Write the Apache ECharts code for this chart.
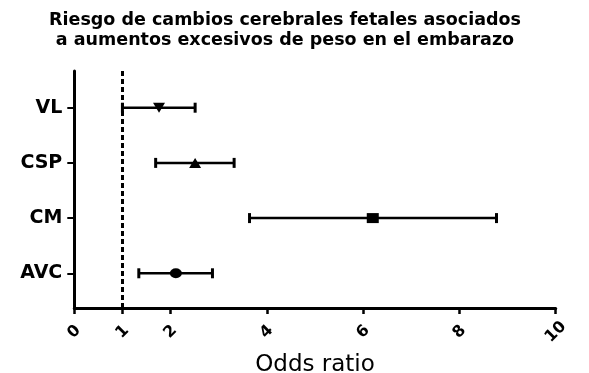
<!DOCTYPE html>
<html>
<head>
<meta charset="utf-8">
<script src="https://cdn.jsdelivr.net/npm/echarts@6/dist/echarts.min.js"></script>
<style>
  html, body { margin: 0; padding: 0; background: #fff; }
  #chart { width: 589px; height: 373px; }
</style>
</head>
<body>
<div id="chart"></div>
<script>
// Outcome groups, listed top to bottom
const categories = ['VL', 'CSP', 'CM', 'AVC'];
// Odds ratios with 95% confidence limits
const oddsRatio = [1.76, 2.51, 6.20, 2.11];
const ciLower   = [1.00, 1.69, 3.64, 1.34];
const ciUpper   = [2.51, 3.32, 8.77, 2.87];
// Ticks shown on the odds-ratio axis
const xTicks = [0, 1, 2, 4, 6, 8, 10];
// Reference line for no effect
const nullValue = 1;

const FONT = 'DejaVu Sans';
const n = categories.length;
// row position on the vertical axis (top row gets the largest value)
const rowPos = i => n - i;

const markerStyle = {
  VL:  { symbol: 'triangle', symbolRotate: 180 },
  CSP: { symbol: 'triangle', symbolRotate: 0 },
  CM:  { symbol: 'rect', symbolRotate: 0 },
  AVC: { symbol: 'circle', symbolRotate: 0 }
};

const barData = categories.map((c, i) => [ciLower[i], ciUpper[i], rowPos(i)]);
const pointData = categories.map((c, i) => ({
  value: [oddsRatio[i], rowPos(i)],
  symbol: markerStyle[c].symbol,
  symbolRotate: markerStyle[c].symbolRotate
}));

const chart = echarts.init(document.getElementById('chart'), null, { renderer: 'canvas' });

chart.setOption({
  animation: false,
  backgroundColor: '#ffffff',
  title: {
    text: 'Riesgo de cambios cerebrales fetales asociados\na aumentos excesivos de peso en el embarazo',
    left: 280,
    top: 5,
    textAlign: 'center',
    textStyle: {
      fontFamily: FONT,
      fontWeight: 'bold',
      fontSize: 17.5,
      lineHeight: 20,
      color: '#000'
    }
  },
  grid: { left: 74.3, right: 33.3, top: 71, bottom: 65, outerBoundsMode: 'none' },
  xAxis: {
    type: 'value',
    min: 0,
    max: 10,
    name: 'Odds ratio',
    nameLocation: 'middle',
    nameGap: 46,
    nameTextStyle: { fontFamily: FONT, fontSize: 23, color: '#000' },
    splitLine: { show: false },
    axisLine: { show: true, lineStyle: { color: '#000', width: 3 } },
    axisTick: {
      show: true, inside: false, length: 6,
      customValues: xTicks,
      lineStyle: { color: '#000', width: 2.5 }
    },
    axisLabel: {
      customValues: xTicks,
      rotate: 45,
      align: 'center',
      verticalAlign: 'middle',
      margin: 24,
      fontFamily: FONT,
      fontWeight: 'bold',
      fontSize: 16,
      color: '#000'
    }
  },
  yAxis: {
    type: 'value',
    min: 0.371,
    max: 4.665,
    splitLine: { show: false },
    axisLine: { show: true, lineStyle: { color: '#000', width: 3 } },
    axisTick: {
      show: true, inside: false, length: 7,
      customValues: categories.map((c, i) => rowPos(i)),
      lineStyle: { color: '#000', width: 2 }
    },
    axisLabel: {
      customValues: categories.map((c, i) => rowPos(i)),
      formatter: v => categories[n - Math.round(v)],
      margin: 12,
      fontFamily: FONT,
      fontWeight: 'bold',
      fontSize: 19,
      color: '#000'
    }
  },
  series: [
    {
      name: 'CI',
      type: 'custom',
      data: barData,
      encode: { x: [0, 1], y: 2 },
      renderItem: function (params, api) {
        const y = api.value(2);
        const a = api.coord([api.value(0), y]);
        const b = api.coord([api.value(1), y]);
        const h = 5;
        return {
          type: 'group',
          children: [
            { type: 'line', shape: { x1: a[0], y1: a[1], x2: b[0], y2: b[1] },
              style: { stroke: '#000', lineWidth: 2.5 } },
            { type: 'line', shape: { x1: a[0], y1: a[1] - h, x2: a[0], y2: a[1] + h },
              style: { stroke: '#000', lineWidth: 3 } },
            { type: 'line', shape: { x1: b[0], y1: b[1] - h, x2: b[0], y2: b[1] + h },
              style: { stroke: '#000', lineWidth: 3 } }
          ]
        };
      },
      markLine: {
        silent: true,
        symbol: ['none', 'none'],
        label: { show: false },
        lineStyle: { color: '#000', width: 3, type: [5, 3] },
        data: [{ xAxis: nullValue }]
      },
      z: 2
    },
    {
      name: 'OR',
      type: 'scatter',
      data: pointData,
      symbolSize: [12, 10],
      itemStyle: { color: '#000', opacity: 1 },
      z: 3
    }
  ]
});
</script>
</body>
</html>
